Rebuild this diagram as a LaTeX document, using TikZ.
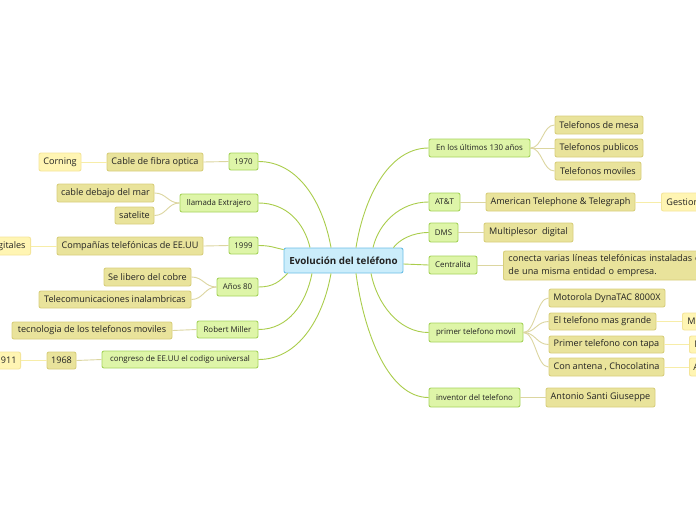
\documentclass[tikz,border=0pt]{standalone}
\usepackage{fontspec}
\setmainfont{Open Sans}
\usetikzlibrary{calc}
\definecolor{rootf}{HTML}{CBEDFB}
\definecolor{rootb}{HTML}{6CBFE6}
\definecolor{lif}{HTML}{DEF5A8}
\definecolor{lib}{HTML}{A6D35C}
\definecolor{lkf}{HTML}{E9E39B}
\definecolor{lkb}{HTML}{D8CF7C}
\definecolor{lyf}{HTML}{FFF5B3}
\definecolor{lyb}{HTML}{F4E59A}
\definecolor{cmain}{HTML}{AACD4C}
\definecolor{ckh}{HTML}{DCD6A0}
\definecolor{cye}{HTML}{F7EDA8}
\definecolor{txt}{HTML}{222222}
\tikzset{
  base/.style={rounded corners=2pt, inner sep=0pt, text=txt, line width=0.9pt},
  rootnode/.style={base, draw=rootb, fill=rootf, font=\fontsize{9.8}{11}\selectfont\bfseries},
  lone/.style={base, draw=lib, fill=lif, font=\fontsize{7.9}{9}\selectfont},
  ltwo/.style={base, draw=lkb, fill=lkf, font=\fontsize{9.1}{10}\selectfont},
  lthree/.style={base, draw=lyb, fill=lyf, font=\fontsize{9.1}{10}\selectfont},
  wh/.style 2 args={minimum width=#1, minimum height=#2},
  mainc/.style={draw=cmain, line width=0.9pt},
  khc/.style={draw=ckh, line width=0.9pt},
  yec/.style={draw=cye, line width=0.9pt},
}
\begin{document}
\begin{tikzpicture}[x=1pt,y=-1pt]
\useasboundingbox (0,0) rectangle (696,520);
\clip (0,0) rectangle (696,520);
\fill[white] (0,0) rectangle (696,520);
% root
\node[rootnode, wh={119}{25}] (c) at (343.5,260.5) {Evolución del teléfono};
% left level 1
\node[lone, wh={29}{17}] (n1970) at (243.5,161.5) {1970};
\node[lone, wh={78}{18}] (nllam) at (219,203) {llamada Extrajero};
\node[lone, wh={29}{17}] (n1999) at (243.5,245.5) {1999};
\node[lone, wh={41}{18}] (n80) at (237.5,287) {Años 80};
\node[lone, wh={61}{17}] (nrm) at (227.5,329.5) {Robert Miller};
\node[lone, wh={156}{17}] (ncong) at (180,359.5) {congreso de EE.UU el codigo universal};
% left level 2/3
\node[ltwo, wh={96}{18}] (fibra) at (155,162) {Cable de fibra optica};
\node[lthree, wh={42}{18}] (corning) at (60,162) {Corning};
\node[ltwo, wh={97}{18}] (debajo) at (105.5,193) {cable debajo del mar};
\node[ltwo, wh={39}{17}] (satel) at (134.5,215.5) {satelite};
\node[ltwo, wh={146}{18}] (comp) at (130,246) {Compañías telefónicas de EE.UU};
\node[lthree, minimum height=18, inner xsep=5pt, anchor=east] (digit) at (31,246) {digitales};
\node[ltwo, wh={87}{18}] (libero) at (147.5,277) {Se libero del cobre};
\node[ltwo, wh={152}{17}] (telecom) at (115,299.5) {Telecomunicaciones inalambricas};
\node[ltwo, wh={160}{17}] (tecno) at (92,330.5) {tecnologia de los telefonos moviles};
\node[ltwo, wh={29}{17}] (n1968) at (61.5,360.5) {1968};
\node[lthree, minimum height=17, inner xsep=4pt, anchor=east] (n911) at (21,360.5) {911};
% right level 1
\node[lone, wh={101}{18}] (enlos) at (479.5,148) {En los últimos 130 años};
\node[lone, wh={31}{18}] (att) at (444.5,202) {AT\&T};
\node[lone, wh={29}{19}] (dms) at (443.5,232.5) {DMS};
\node[lone, wh={48}{18}] (centr) at (453,265) {Centralita};
\node[lone, wh={94}{19}] (primer) at (476,332.5) {primer telefono movil};
\node[lone, wh={91}{19}] (invent) at (474.5,397.5) {inventor del telefono};
% right level 2/3
\node[ltwo, wh={88}{18}] (mesa) at (599,125) {Telefonos de mesa};
\node[ltwo, wh={88}{18}] (publ) at (599,148) {Telefonos publicos};
\node[ltwo, wh={86}{18}] (movi) at (598,171) {Telefonos moviles};
\node[ltwo, wh={149}{18}] (amer) at (560.5,202) {American Telephone \& Telegraph};
\node[lthree, minimum height=18, text width=60pt, inner xsep=5pt, align=left, anchor=west] (gest) at (661,202) {Gestion};
\node[ltwo, wh={89}{19}] (multi) at (528.5,232.5) {Multiplesor\ \ digital};
\node[ltwo, minimum height=29, text width=220pt, inner xsep=5pt, align=left, anchor=west, font=\fontsize{9.1}{12.5}\selectfont] (conecta) at (503,265.5) {conecta varias líneas telefónicas instaladas en\\de una misma entidad o empresa.};
\node[ltwo, wh={116}{18}] (moto) at (607,298) {Motorola DynaTAC 8000X};
\node[ltwo, wh={107}{17}] (grande) at (602.5,321.5) {El telefono mas grande};
\node[lthree, minimum height=17, text width=40pt, inner xsep=5pt, align=left, anchor=west] (mo) at (682,321.5) {Mo};
\node[ltwo, wh={115}{17}] (tapa) at (606.5,344.5) {Primer telefono con tapa};
\node[lthree, minimum height=17, text width=40pt, inner xsep=5pt, align=left, anchor=west] (mm) at (689,344.5) {M};
\node[ltwo, wh={115}{18}] (antena) at (606.5,367) {Con antena , Chocolatina};
\node[lthree, minimum height=18, text width=40pt, inner xsep=4pt, align=left, anchor=west] (aa) at (689,367) {A};
\node[ltwo, wh={109}{19}] (antonio) at (600.5,397.5) {Antonio Santi Giuseppe};
% main connectors
\draw[mainc] ([xshift=-12.5pt]c.north) .. controls +(-8,-45) and +(40,0) .. (n1970.east);
\draw[mainc] ([xshift=-33.5pt]c.north) .. controls +(-6,-25) and +(28,0) .. (nllam.east);
\draw[mainc] ([yshift=-2pt]c.north west) .. controls +(-10,-2) and +(12,0) .. (n1999.east);
\draw[mainc] ([xshift=4pt]c.south west) .. controls +(-8,8) and +(15,0) .. (n80.east);
\draw[mainc] ([xshift=-31.5pt]c.south) .. controls +(-6,30) and +(30,0) .. (nrm.east);
\draw[mainc] ([xshift=-12.5pt]c.south) .. controls +(-8,45) and +(40,0) .. (ncong.east);
\draw[mainc] ([xshift=12.5pt]c.north) .. controls +(8,-50) and +(-40,0) .. (enlos.west);
\draw[mainc] ([xshift=29.5pt]c.north) .. controls +(6,-25) and +(-28,0) .. (att.west);
\draw[mainc] ([xshift=-10pt]c.north east) .. controls +(6,-8) and +(-16,0) .. (dms.west);
\draw[mainc] ([yshift=-3.5pt]c.east) .. controls +(12,0) and +(-12,0) .. (centr.west);
\draw[mainc] ([xshift=27.5pt]c.south) .. controls +(6,30) and +(-30,0) .. (primer.west);
\draw[mainc] ([xshift=12.5pt]c.south) .. controls +(8,60) and +(-40,0) .. (invent.west);
% level1 -> level2
\draw[khc] (n1970.west) -- (fibra.east);
\draw[khc] (nllam.west) .. controls +(-12,0) and +(12,0) .. (debajo.east);
\draw[khc] (nllam.west) .. controls +(-12,0) and +(12,0) .. (satel.east);
\draw[khc] (n1999.west) -- (comp.east);
\draw[khc] (n80.west) .. controls +(-12,0) and +(12,0) .. (libero.east);
\draw[khc] (n80.west) .. controls +(-12,0) and +(12,0) .. (telecom.east);
\draw[khc] (nrm.west) -- (tecno.east);
\draw[khc] (ncong.west) -- (n1968.east);
\draw[khc] (enlos.east) .. controls +(12,0) and +(-12,0) .. (mesa.west);
\draw[khc] (enlos.east) -- (publ.west);
\draw[khc] (enlos.east) .. controls +(12,0) and +(-12,0) .. (movi.west);
\draw[khc] (att.east) -- (amer.west);
\draw[khc] (dms.east) -- (multi.west);
\draw[khc] (centr.east) -- (centr.east -| conecta.west);
\draw[khc] (primer.east) .. controls +(12,0) and +(-12,0) .. (moto.west);
\draw[khc] (primer.east) .. controls +(12,0) and +(-12,0) .. (grande.west);
\draw[khc] (primer.east) .. controls +(12,0) and +(-12,0) .. (tapa.west);
\draw[khc] (primer.east) .. controls +(12,0) and +(-12,0) .. (antena.west);
\draw[khc] (invent.east) -- (antonio.west);
% level2 -> level3
\draw[yec] (fibra.west) -- (corning.east);
\draw[yec] (comp.west) -- (digit.east);
\draw[yec] (n1968.west) -- (n911.east);
\draw[yec] (amer.east) -- (gest.west);
\draw[yec] (grande.east) -- (mo.west);
\draw[yec] (tapa.east) -- (mm.west);
\draw[yec] (antena.east) -- (aa.west);
\end{tikzpicture}
\end{document}
